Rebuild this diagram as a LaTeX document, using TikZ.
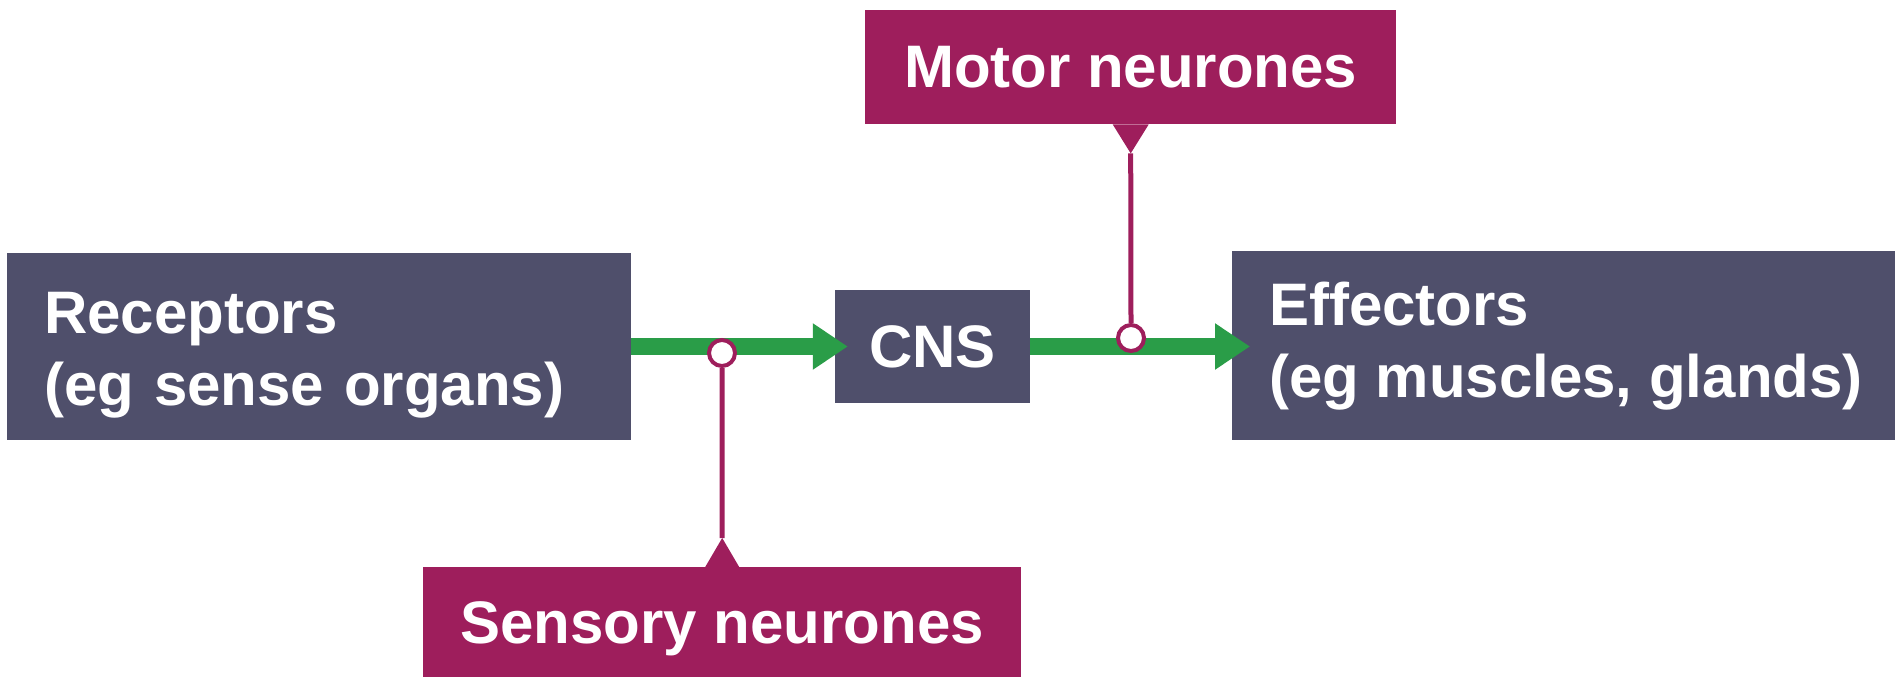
\documentclass[tikz,border=0pt]{standalone}
\usepackage{fontspec}
\setmainfont{Liberation Sans}
\usepackage{xcolor}
\usetikzlibrary{arrows.meta, positioning, calc}

\definecolor{slate}{HTML}{4F4F6B}
\definecolor{plum}{HTML}{9E1E5C}
\definecolor{leaf}{HTML}{2A9D48}

\tikzset{
  darkbox/.style={rectangle, fill=slate, text=white, inner sep=0pt,
    font=\fontsize{60}{72}\selectfont\bfseries},
  twoline/.style={darkbox, align=left, inner xsep=37pt,
    execute at begin node={\rule{0pt}{58pt}}},
  pinkbox/.style={rectangle, fill=plum, text=white, inner sep=0pt,
    text depth=0pt, font=\fontsize{60}{72}\selectfont\bfseries},
  nerve/.style={draw=leaf, line width=17pt,
    -{Triangle[length=35pt,width=44pt]}},
  stalk/.style={draw=plum, line width=5pt},
  dot/.style={circle, draw=plum, fill=white, line width=4pt,
    minimum size=26pt, inner sep=0pt}
}

\begin{document}
\begin{tikzpicture}[x=1pt,y=-1pt]
\useasboundingbox (0,0) rectangle (1895,677);

% boxes
\node[twoline, anchor=north west, minimum height=187pt, text width=550pt]
  (receptors) at (7,253) {Receptors\\(eg sense organs)};
\node[darkbox, minimum width=195pt, minimum height=113pt] (cns) at (932.5,346.5) {CNS};
\node[twoline, anchor=north west, minimum height=189pt]
  (effectors) at (1232,251) {Effectors\\(eg muscles, glands)};

% labels
\node[pinkbox, anchor=north west, minimum width=531pt, minimum height=114pt]
  (motor) at (865,10) {Motor neurones};
\node[pinkbox, anchor=north west, minimum width=598pt, minimum height=110pt]
  (sensory) at (423,567) {Sensory neurones};

% pointers of the labels
\coordinate (motortip) at ([yshift=-29pt]motor.south);
\coordinate (senstip) at ([yshift=29pt]sensory.north);
\fill[plum] ([xshift=-18pt]motor.south) -- (motortip) -- ([xshift=18pt]motor.south) -- cycle;
\fill[plum] ([xshift=-17pt]sensory.north) -- (senstip) -- ([xshift=17pt]sensory.north) -- cycle;

% pathway
\draw[nerve, shorten >=-13pt] (receptors.east |- cns.west) -- (cns.west);
\draw[nerve, shorten >=-18pt] (cns.east) -- (cns.east -| effectors.west);

\node[dot] (sensdot) at (722,353) {};
\node[dot] (motordot) at (1131,338) {};
\draw[stalk] (sensdot.south) -- (senstip);
\draw[stalk] (motordot.north) -- (motortip);
\end{tikzpicture}
\end{document}
